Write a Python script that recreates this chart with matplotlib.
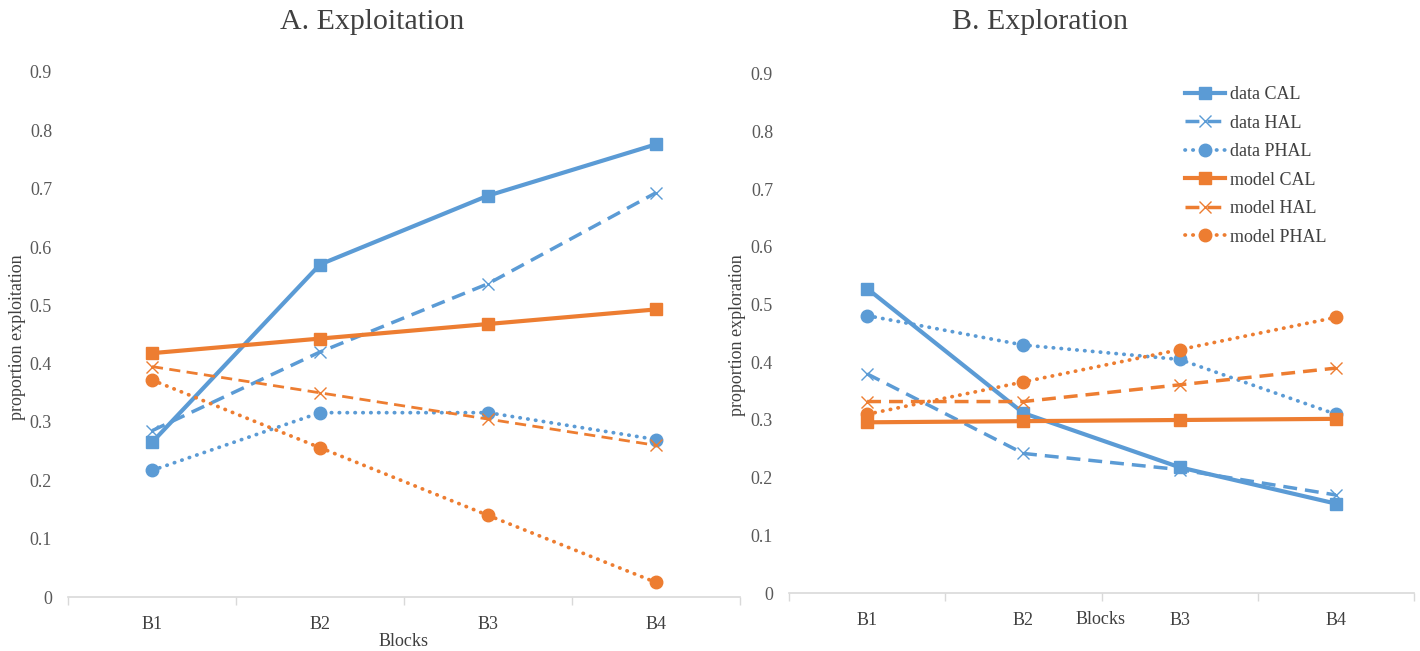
import matplotlib
matplotlib.use("Agg")
import matplotlib.pyplot as plt

blocks = ["B1", "B2", "B3", "B4"]

# Panel A: proportion exploitation
a_data_cal = [0.265, 0.570, 0.688, 0.776]
a_data_hal = [0.285, 0.420, 0.537, 0.693]
a_data_phal = [0.217, 0.316, 0.316, 0.270]
a_model_cal = [0.418, 0.443, 0.468, 0.493]
a_model_hal = [0.395, 0.350, 0.305, 0.260]
a_model_phal = [0.372, 0.256, 0.140, 0.025]

# Panel B: proportion exploration
b_data_cal = [0.528, 0.312, 0.218, 0.155]
b_data_hal = [0.380, 0.242, 0.214, 0.170]
b_data_phal = [0.481, 0.430, 0.405, 0.310]
b_model_cal = [0.296, 0.298, 0.300, 0.302]
b_model_hal = [0.332, 0.332, 0.361, 0.390]
b_model_phal = [0.310, 0.366, 0.422, 0.478]

series_names = ["data CAL", "data HAL", "data PHAL", "model CAL", "model HAL", "model PHAL"]

BLUE = "#5B9BD5"
ORANGE = "#ED7D31"

plt.rcParams['font.family'] = ['Liberation Serif', 'DejaVu Serif']

fig = plt.figure(figsize=(14.2, 6.51), dpi=100)
axA = fig.add_axes([68/1420, 1-597/651, (740-68)/1420, (597-72)/651])
axB = fig.add_axes([789/1420, 1-593/651, (1414-789)/1420, (593-74)/651])

def styles(color, kind, thin_dash=False):
    if kind == "CAL":
        return dict(color=color, lw=3.0, ls="-", marker="s", ms=8, mec=color, mfc=color)
    if kind == "HAL":
        lw = 2.0 if thin_dash else 2.5
        return dict(color=color, lw=lw, ls=(0, (4, 2.3)), marker="x", ms=8.5, mew=1.0, mec=color)
    return dict(color=color, lw=2.7, ls=(0, (0.1, 2.0)), dash_capstyle="round",
                marker="o", ms=9, mec=color, mfc=color)

def draw(ax, vals, thin_orange_dash=False):
    x = list(range(len(blocks)))
    kinds = ["CAL", "HAL", "PHAL", "CAL", "HAL", "PHAL"]
    colors = [BLUE, BLUE, BLUE, ORANGE, ORANGE, ORANGE]
    handles = []
    for v, k, c, name in zip(vals, kinds, colors, series_names):
        st = styles(c, k, thin_dash=(thin_orange_dash and c == ORANGE))
        h, = ax.plot(x, v, label=name, clip_on=False, **st)
        handles.append(h)
    ax.set_xlim(-0.5, 3.5)
    ax.set_ylim(0, 0.9)
    ax.set_yticks([i/10 for i in range(10)])
    ax.set_yticklabels(["0"] + [f"0.{i}" for i in range(1, 10)])
    ax.set_xticks([-0.5, 0.5, 1.5, 2.5, 3.5])
    ax.set_xticklabels([])
    ax.set_xticks(x, minor=True)
    ax.set_xticklabels(blocks, minor=True)
    ax.tick_params(axis="x", which="major", length=6, color="#D9D9D9", width=1, direction="out")
    ax.tick_params(axis="x", which="minor", length=0, pad=14, labelsize=13, colors="#404040")
    ax.tick_params(axis="y", length=0, pad=11.5, labelsize=13, colors="#595959")
    for s in ["top", "right", "left"]:
        ax.spines[s].set_visible(False)
    ax.spines["bottom"].set_color("#D9D9D9")
    ax.spines["bottom"].set_linewidth(1.2)
    ax.patch.set_alpha(0)
    return handles

draw(axA, [a_data_cal, a_data_hal, a_data_phal, a_model_cal, a_model_hal, a_model_phal], thin_orange_dash=True)
handles = draw(axB, [b_data_cal, b_data_hal, b_data_phal, b_model_cal, b_model_hal, b_model_phal])

fig.text(372/1420, 1-22/651, "A. Exploitation", ha="center", va="center", fontsize=21.5, color="#404040")
fig.text(1040/1420, 1-22/651, "B. Exploration", ha="center", va="center", fontsize=21.5, color="#404040")

fig.text(404/1420, 1-642/651, "Blocks", ha="center", va="center", fontsize=13, color="#404040")
fig.text(1101/1420, 1-620/651, "Blocks", ha="center", va="center", fontsize=13, color="#404040")

fig.text(18/1420, 1-337/651, "proportion exploitation", ha="center", va="center", rotation=90, fontsize=13, color="#404040")
fig.text(738/1420, 1-335/651, "proportion exploration", ha="center", va="center", rotation=90, fontsize=13, color="#404040")

leg = fig.legend(handles=handles, loc="upper left", bbox_to_anchor=(1185/1420, 1-86/651),
                 frameon=False, fontsize=13, handlelength=2.2, handletextpad=0.28,
                 labelspacing=0.64, borderpad=0, borderaxespad=0)
for t in leg.get_texts():
    t.set_color("#404040")

fig.savefig("out.png", dpi=100)
